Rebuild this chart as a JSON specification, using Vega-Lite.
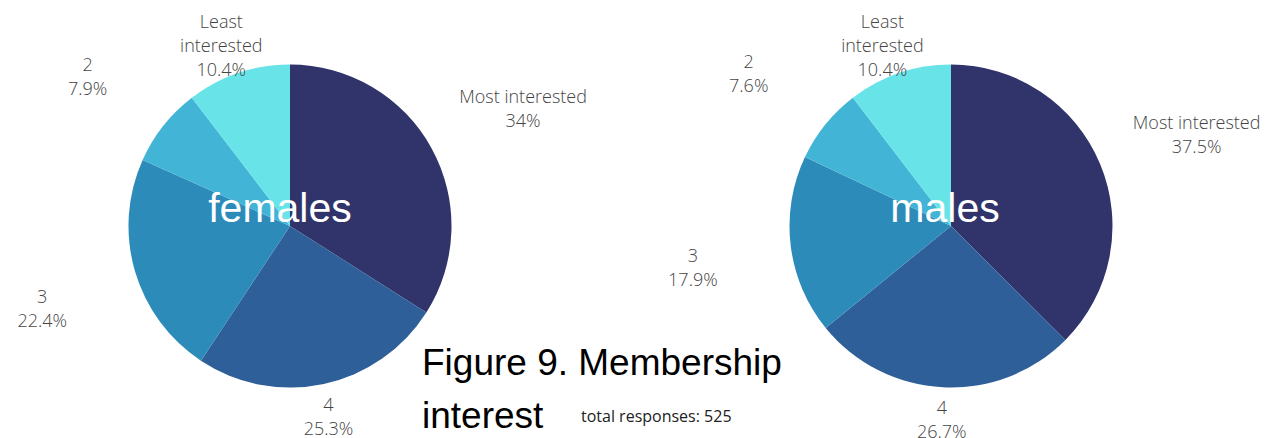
{
  "$schema": "https://vega.github.io/schema/vega-lite/v6.json",
  "padding": 0,
  "autosize": {"type": "pad"},
  "background": "white",
  "spacing": 81,
  "bounds": "flush",
  "config": {"view": {"stroke": null}},
  "title": {
    "text": ["Figure 9. Membership", "interest"],
    "orient": "bottom",
    "anchor": "start",
    "frame": "group",
    "baseline": "alphabetic",
    "offset": -77,
    "dx": 422,
    "font": "Liberation Sans",
    "fontSize": 37,
    "fontWeight": "normal",
    "color": "#000000",
    "lineHeight": 53
  },
  "data": {
    "values": [
      {"sex": "females", "level": "Most interested", "rank": 1, "pct": 34.0, "label": "Most interested\n34%"},
      {"sex": "females", "level": "4", "rank": 2, "pct": 25.3, "label": "4\n25.3%"},
      {"sex": "females", "level": "3", "rank": 3, "pct": 22.4, "label": "3\n22.4%"},
      {"sex": "females", "level": "2", "rank": 4, "pct": 7.9, "label": "2\n7.9%"},
      {"sex": "females", "level": "Least interested", "rank": 5, "pct": 10.4, "label": "Least\ninterested\n10.4%"},
      {"sex": "males", "level": "Most interested", "rank": 1, "pct": 37.5, "label": "Most interested\n37.5%"},
      {"sex": "males", "level": "4", "rank": 2, "pct": 26.7, "label": "4\n26.7%"},
      {"sex": "males", "level": "3", "rank": 3, "pct": 17.9, "label": "3\n17.9%"},
      {"sex": "males", "level": "2", "rank": 4, "pct": 7.6, "label": "2\n7.6%"},
      {"sex": "males", "level": "Least interested", "rank": 5, "pct": 10.4, "label": "Least\ninterested\n10.4%"}
    ]
  },
  "hconcat": [
    {
      "width": 580,
      "height": 452,
      "transform": [{"filter": "datum.sex === 'females'"}],
      "layer": [
        {
          "mark": {"type": "arc", "outerRadius": 161.5, "strokeWidth": 0},
          "encoding": {
            "theta": {"field": "pct", "type": "quantitative", "stack": true},
            "order": {"field": "rank", "type": "quantitative", "sort": "ascending"},
            "color": {
              "field": "level", "type": "nominal", "legend": null,
              "scale": {"domain": ["Most interested", "4", "3", "2", "Least interested"], "range": ["#31346B", "#2E5F98", "#2D8BBA", "#42B4D6", "#68E4E8"]}
            }
          }
        },
        {
          "mark": {"type": "text", "font": "Open Sans", "fontSize": 18, "fontWeight": 300, "color": "#444444", "lineBreak": "\n", "lineHeight": 24, "align": "center", "baseline": "middle"},
          "encoding": {
            "theta": {"field": "pct", "type": "quantitative", "stack": true},
            "order": {"field": "rank", "type": "quantitative", "sort": "ascending"},
            "detail": {"field": "level", "type": "nominal"},
            "radius": {"value": {"expr": "datum.level === '4' ? 184 : datum.level === 'Least interested' ? 214 : datum.level === 'Most interested' ? 266 : 258"}},
            "text": {"field": "label", "type": "nominal"}
          }
        },
        {
          "transform": [{"aggregate": [{"op": "count", "as": "n"}], "groupby": ["sex"]}],
          "mark": {"type": "text", "font": "Liberation Sans", "fontSize": 41, "color": "white", "dx": -10, "dy": -4, "align": "center", "baseline": "alphabetic"},
          "encoding": {"text": {"field": "sex", "type": "nominal"}}
        }
      ]
    },
    {
      "width": 580,
      "height": 452,
      "title": {
        "text": "total responses: 525",
        "orient": "bottom",
        "anchor": "start",
        "frame": "group",
        "baseline": "alphabetic",
        "offset": -30,
        "dx": -80,
        "font": "Open Sans",
        "fontSize": 16,
        "fontWeight": "normal",
        "color": "#222222"
      },
      "transform": [{"filter": "datum.sex === 'males'"}],
      "layer": [
        {
          "mark": {"type": "arc", "outerRadius": 161.5, "strokeWidth": 0},
          "encoding": {
            "theta": {"field": "pct", "type": "quantitative", "stack": true},
            "order": {"field": "rank", "type": "quantitative", "sort": "ascending"},
            "color": {
              "field": "level", "type": "nominal", "legend": null,
              "scale": {"domain": ["Most interested", "4", "3", "2", "Least interested"], "range": ["#31346B", "#2E5F98", "#2D8BBA", "#42B4D6", "#68E4E8"]}
            }
          }
        },
        {
          "mark": {"type": "text", "font": "Open Sans", "fontSize": 18, "fontWeight": 300, "color": "#444444", "lineBreak": "\n", "lineHeight": 24, "align": "center", "baseline": "middle"},
          "encoding": {
            "theta": {"field": "pct", "type": "quantitative", "stack": true},
            "order": {"field": "rank", "type": "quantitative", "sort": "ascending"},
            "detail": {"field": "level", "type": "nominal"},
            "radius": {"value": {"expr": "datum.level === '4' ? 183 : datum.level === 'Least interested' ? 214 : datum.level === 'Most interested' ? 266 : 260"}},
            "text": {"field": "label", "type": "nominal"}
          }
        },
        {
          "transform": [{"aggregate": [{"op": "count", "as": "n"}], "groupby": ["sex"]}],
          "mark": {"type": "text", "font": "Liberation Sans", "fontSize": 41, "color": "white", "dx": -6, "dy": -4, "align": "center", "baseline": "alphabetic"},
          "encoding": {"text": {"field": "sex", "type": "nominal"}}
        }
      ]
    }
  ]
}
